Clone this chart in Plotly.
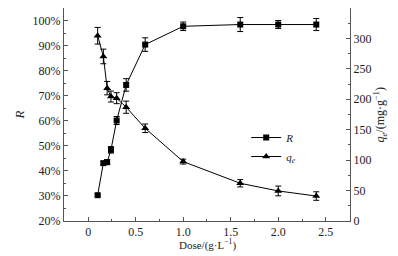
import plotly.graph_objects as go

dose = [0.1, 0.16, 0.2, 0.24, 0.3, 0.4, 0.6, 1.0, 1.6, 2.0, 2.4]
R_pct = [30.3, 43.1, 43.5, 48.4, 60.1, 74.3, 90.4, 97.7, 98.4, 98.4, 98.4]
R_err = [0.5, 0.6, 1.0, 1.3, 1.6, 2.5, 2.7, 1.7, 2.8, 1.6, 2.4]
qe = [304.4, 270.4, 218.3, 204.5, 201.8, 187.0, 152.4, 97.6, 62.0, 49.4, 41.0]
qe_err = [13.7, 12.0, 11.0, 9.0, 9.0, 10.0, 7.0, 4.0, 6.0, 8.0, 7.0]

x_ticks = [0, 0.5, 1.0, 1.5, 2.0, 2.5]
x_ticklabels = ["0", "0.5", "1.0", "1.5", "2.0", "2.5"]
yl_ticks = [20, 30, 40, 50, 60, 70, 80, 90, 100]
yl_ticklabels = [f"{v}%" for v in yl_ticks]
yr_ticks = [0, 50, 100, 150, 200, 250, 300, 350]

FONT = "Liberation Serif"
fig = go.Figure()
fig.add_trace(go.Scatter(
    x=dose, y=R_pct, name="<i>R</i>", mode="lines+markers",
    line=dict(color="black", width=1),
    marker=dict(symbol="square", size=6, color="black"),
    error_y=dict(type="data", array=R_err, color="black", thickness=1, width=3),
    yaxis="y"))
fig.add_trace(go.Scatter(
    x=dose, y=qe, name="<i>q</i><sub><i>e</i></sub>", mode="lines+markers",
    line=dict(color="black", width=1),
    marker=dict(symbol="triangle-up", size=7, color="black"),
    error_y=dict(type="data", array=qe_err, color="black", thickness=1, width=3),
    yaxis="y2"))

axis_common = dict(showline=True, linecolor="#555", linewidth=1, ticks="inside",
                   ticklen=4, tickcolor="#555", showgrid=False, zeroline=False,
                   automargin=False,
                   tickfont=dict(family=FONT, size=12, color="#222"))
fig.update_layout(
    width=398, height=248, margin=dict(l=56, r=56, t=0, b=35),
    paper_bgcolor="white", plot_bgcolor="white",
    font=dict(family=FONT, size=12, color="#222"),
    xaxis=dict(range=[-0.254, 2.755], tickvals=x_ticks, ticktext=x_ticklabels,
               minor=dict(ticks="inside", ticklen=2, tickcolor="#555", dtick=0.25, tick0=0),
               **axis_common),
    yaxis=dict(range=[20, 105], tickvals=yl_ticks, ticktext=yl_ticklabels,
               minor=dict(ticks="inside", ticklen=2, tickcolor="#555", dtick=5, tick0=0),
               title=dict(text="<i>R</i>", standoff=5, font=dict(family=FONT, size=13)),
               **axis_common),
    yaxis2=dict(range=[0, 350], tickvals=yr_ticks, overlaying="y", side="right",
                anchor="x",
                minor=dict(ticks="inside", ticklen=2, tickcolor="#555", dtick=25, tick0=0),
                **axis_common),
    legend=dict(x=0.637, y=0.46, xanchor="left", yanchor="top",
                bgcolor="rgba(0,0,0,0)", itemwidth=30, tracegroupgap=0,
                font=dict(family=FONT, size=11)),
    showlegend=True,
    annotations=[
        dict(text="Dose/(g·L<sup>−1</sup>)", xref="paper", yref="paper",
             x=0.5, y=-0.112, xanchor="center", yanchor="middle",
             showarrow=False, font=dict(family=FONT, size=11, color="#222")),
        dict(text="<i>q</i><sub><i>e</i></sub>/(mg·g<sup>−1</sup>)", xref="paper", yref="paper",
             x=1.108, y=0.5, xanchor="center", yanchor="middle", textangle=-90,
             showarrow=False, font=dict(family=FONT, size=12, color="#222")),
    ],
)
fig.write_html("out.html")
